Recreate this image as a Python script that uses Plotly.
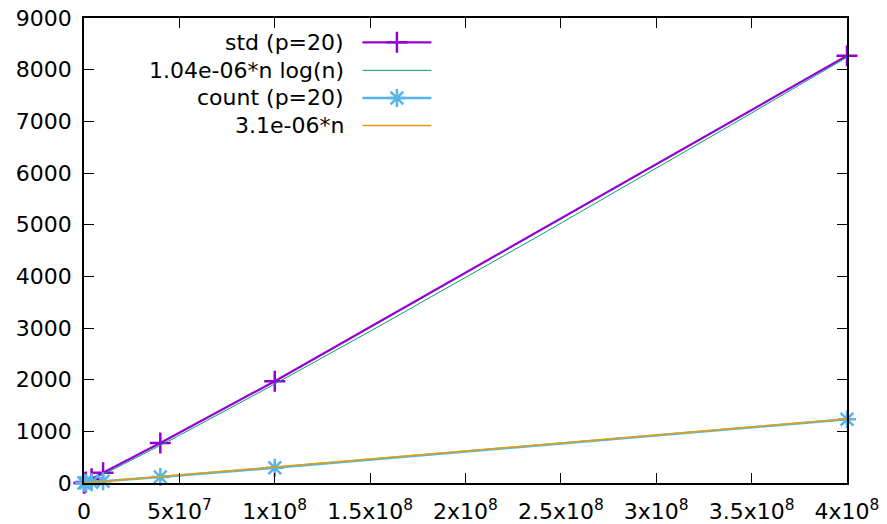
import numpy as np
import plotly.graph_objects as go

# measured timings (seconds) for problem size n
n_values = [1e4, 1e5, 1e6, 4e6, 1e7, 4e7, 1e8, 4e8]
std_times = [0.2, 1.6, 18, 80, 200, 775, 1970, 8270]
count_times = [0.05, 0.4, 3.5, 14, 33, 118, 295, 1235]

# fitted model coefficients
c_nlogn = 1.04e-06
c_lin = 3.1e-06

series_names = ["std (p=20)", "1.04e-06*n log(n)", "count (p=20)", "3.1e-06*n"]

y_ticks = list(range(0, 9001, 1000))
x_ticks = [0, 5e7, 1e8, 1.5e8, 2e8, 2.5e8, 3e8, 3.5e8, 4e8]
x_tick_text = ["0", "5x10<sup>7</sup>", "1x10<sup>8</sup>", "1.5x10<sup>8</sup>",
               "2x10<sup>8</sup>", "2.5x10<sup>8</sup>", "3x10<sup>8</sup>",
               "3.5x10<sup>8</sup>", "4x10<sup>8</sup>"]

PURPLE = "#9400d3"
GREEN = "#009e73"
BLUE = "#56b4e9"
ORANGE = "#e69f00"
FONT = "DejaVu Sans"
FS = 22
MS = 15

# sampled model curves (100 samples across the x range)
xs = np.linspace(0, 4e8, 100)
safe = np.where(xs > 0, xs, 1.0)
f_nlogn = np.where(xs > 0, c_nlogn * xs * np.log(safe), 0.0)
f_lin = c_lin * xs

W, H = 887, 524
L, R, T, B = 83.5, 40.3, 18.4, 40.7

fig = go.Figure()
fig.add_trace(go.Scatter(
    x=n_values, y=std_times, mode="lines+markers",
    line=dict(color=PURPLE, width=2.2),
    marker=dict(symbol="cross-thin", size=MS, line=dict(color=PURPLE, width=2.5)),
    showlegend=False, cliponaxis=False))
fig.add_trace(go.Scatter(
    x=xs, y=f_nlogn, mode="lines", line=dict(color=GREEN, width=1),
    showlegend=False))
fig.add_trace(go.Scatter(
    x=n_values, y=count_times, mode="lines+markers",
    line=dict(color=BLUE, width=2.5),
    marker=dict(symbol="asterisk", size=MS, line=dict(color=BLUE, width=2.5)),
    showlegend=False, cliponaxis=False))
fig.add_trace(go.Scatter(
    x=xs, y=f_lin, mode="lines", line=dict(color=ORANGE, width=1.5),
    showlegend=False))

# key drawn in a pixel-space overlay: right-aligned labels, samples to the right
key_rows = [42.7, 70.7, 98.3, 126.0]
key_styles = [
    (PURPLE, 2.2, "cross-thin"),
    (GREEN, 1, None),
    (BLUE, 2.5, "asterisk"),
    (ORANGE, 1.5, None),
]
x_text_right, x_line0, x_line1 = 346, 362, 431
for name, yk, (col, lw, sym) in zip(series_names, key_rows, key_styles):
    fig.add_trace(go.Scatter(
        x=[x_line0, x_line1], y=[yk, yk], mode="lines",
        line=dict(color=col, width=lw), xaxis="x2", yaxis="y2",
        showlegend=False, hoverinfo="skip"))
    if sym:
        fig.add_trace(go.Scatter(
            x=[(x_line0 + x_line1) / 2], y=[yk], mode="markers",
            marker=dict(symbol=sym, size=MS, color=col, line=dict(color=col, width=2.5)),
            xaxis="x2", yaxis="y2", showlegend=False, hoverinfo="skip"))
    fig.add_annotation(x=x_text_right, y=yk, xref="x2", yref="y2", text=name,
                       showarrow=False, xanchor="right", yanchor="middle",
                       font=dict(family=FONT, size=FS, color="black"))

axis_common = dict(showline=True, linecolor="black", linewidth=1.5, mirror="allticks",
                   ticks="inside", ticklen=10, tickwidth=1, tickcolor="black",
                   showgrid=False, zeroline=False, automargin=False,
                   tickfont=dict(family=FONT, size=FS, color="black"))

fig.update_layout(
    width=W, height=H,
    margin=dict(l=L, r=R, t=T, b=B, pad=0, autoexpand=False),
    paper_bgcolor="white", plot_bgcolor="white",
    showlegend=False,
    xaxis=dict(range=[0, 4e8], tickmode="array", tickvals=x_ticks, ticktext=x_tick_text,
               ticklabelstandoff=8, **axis_common),
    yaxis=dict(range=[0, 9000], tickmode="array", tickvals=y_ticks,
               ticktext=[str(v) for v in y_ticks], ticklabelstandoff=6, **axis_common),
    xaxis2=dict(overlaying="x", range=[L, W - R], visible=False, fixedrange=True),
    yaxis2=dict(overlaying="y", range=[H - B, T], visible=False, fixedrange=True),
)

fig.write_html("out.html")
